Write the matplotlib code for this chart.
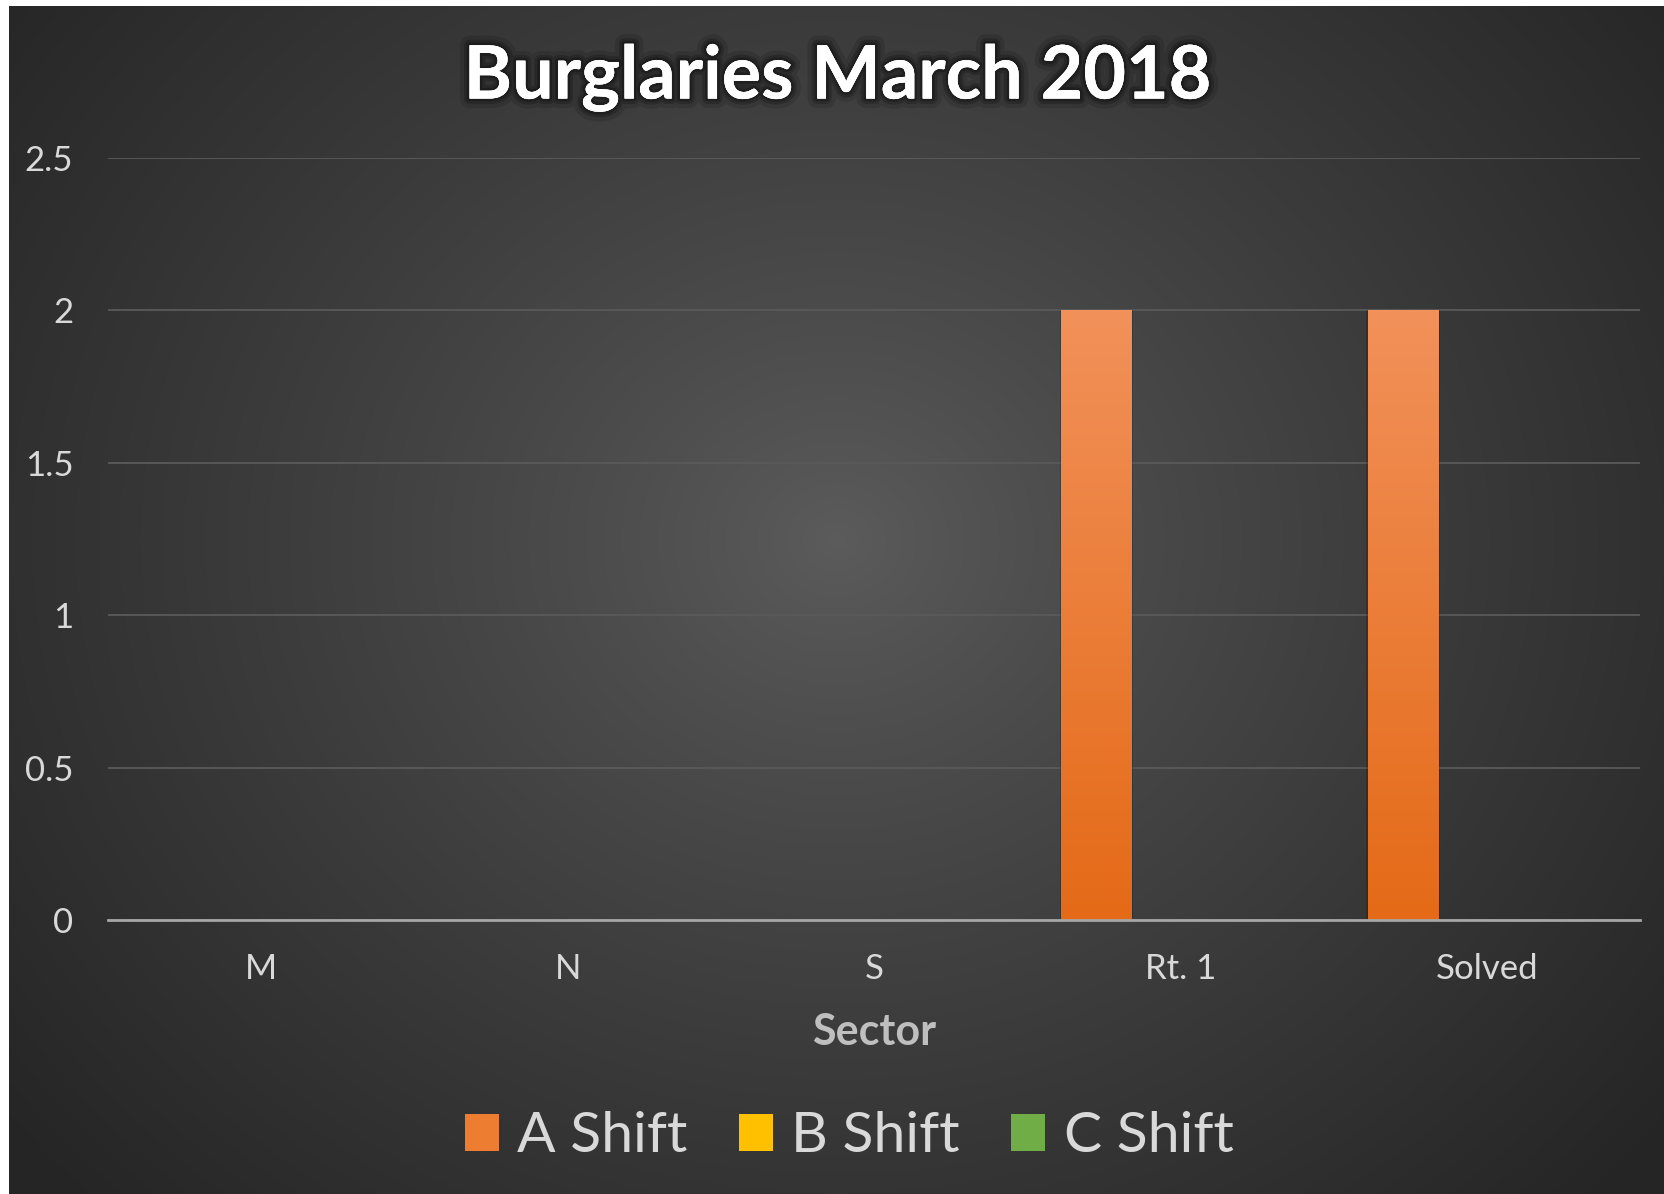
import matplotlib
matplotlib.use('Agg')
import matplotlib.pyplot as plt
import matplotlib.patheffects as pe
import numpy as np

# du lieu
sectors = ['M', 'N', 'S', 'Rt. 1', 'Solved']
series_names = ['A Shift', 'B Shift', 'C Shift']
a_shift = [0, 0, 0, 2, 2]
b_shift = [0, 0, 0, 0, 0]
c_shift = [0, 0, 0, 0, 0]
y_ticks = [0, 0.5, 1, 1.5, 2, 2.5]

colors = ['#ED7D31', '#FFC000', '#70AD47']
grad_top = ['#F2915A', '#FFD24D', '#86BB5E']
grad_bot = ['#E46A17', '#EDB800', '#62A33A']

plt.rcParams['font.family'] = ['Lato', 'DejaVu Sans']

W, H, DPI = 1665, 1194, 100
fig = plt.figure(figsize=(W / DPI, H / DPI), dpi=DPI)
fig.patch.set_facecolor('white')

# nen gradient tron
bg = fig.add_axes([9 / W, 0, 1 - 9 / W, 1 - 6 / H])
bg.set_axis_off()
gy, gx = np.mgrid[0:1:400j, 0:1:600j]
r = np.sqrt(((gx - 0.5) / 0.65) ** 2 + ((gy - 0.45) / 0.8) ** 2)
r = np.clip(r, 0, 1)
c0, c1 = 0x5C / 255, 0x25 / 255
val = c0 + (c1 - c0) * r ** 0.85
img = np.dstack([val, val, val])
bg.imshow(img, aspect='auto', extent=[0, 1, 0, 1], interpolation='bilinear')
bg.set_xlim(0, 1)
bg.set_ylim(0, 1)

ax = fig.add_axes([108 / W, 1 - 920 / H, (1640 - 108) / W, (920 - 158) / H])
ax.set_facecolor('none')

x = np.arange(len(sectors))
width = 0.229
step = 0.274
data = [a_shift, b_shift, c_shift]
for i, vals in enumerate(data):
    xs = x + (i - 1) * step
    # bong do
    ax.bar(xs, vals, width + 0.012, color='black', alpha=0.18, zorder=2)
    bars = ax.bar(xs, vals, width, color=colors[i], label=series_names[i], zorder=3)
    for b in bars:
        h = b.get_height()
        if h <= 0:
            continue
        t = np.array(matplotlib.colors.to_rgb(grad_top[i]))
        bt = np.array(matplotlib.colors.to_rgb(grad_bot[i]))
        f = np.linspace(0, 1, 200)[:, None]
        g = t * (1 - f) + bt * f
        g = g[:, None, :]
        im = ax.imshow(g, aspect='auto', extent=[b.get_x(), b.get_x() + b.get_width(), 0, h],
                       zorder=4, interpolation='bilinear')
        im.set_clip_path(b)

ax.set_xlim(-0.5, len(sectors) - 0.5)
ax.set_ylim(0, 2.5)
ax.set_yticks(y_ticks)
ax.set_yticklabels([f'{v:g}' for v in y_ticks])
ax.set_xticks(x)
ax.set_xticklabels(sectors)
ax.yaxis.grid(True, color='#5a5a5a', linewidth=1.3, zorder=1)
ax.set_axisbelow(True)
for s in ['top', 'right', 'left']:
    ax.spines[s].set_visible(False)
ax.spines['bottom'].set_color('#a6a6a6')
ax.spines['bottom'].set_linewidth(2)
ax.spines['bottom'].set_zorder(5)
ax.tick_params(axis='both', length=0, colors='#d9d9d9', labelsize=25)
ax.tick_params(axis='y', pad=25)
ax.tick_params(axis='x', pad=24)

ax.set_xlabel('Sector', fontsize=31, fontweight='bold', color='#bfbfbf', labelpad=19)

fig.text(0.503, 1 - 78 / H, 'Burglaries March 2018', ha='center', va='center',
         fontsize=53, fontweight='bold', color='white',
         path_effects=[pe.withStroke(linewidth=14, foreground='black', alpha=0.12),
                       pe.withStroke(linewidth=8, foreground='black', alpha=0.2),
                       pe.withStroke(linewidth=4, foreground='black', alpha=0.25),
                       pe.Normal()])

leg = fig.legend(loc='center', bbox_to_anchor=(0.51, 1 - 1137 / H), ncol=3, frameon=False,
                 fontsize=41, handlelength=0.6, handleheight=0.6, handletextpad=0.32,
                 columnspacing=0.9, labelcolor='#d9d9d9')

fig.savefig('out.png', dpi=DPI)
